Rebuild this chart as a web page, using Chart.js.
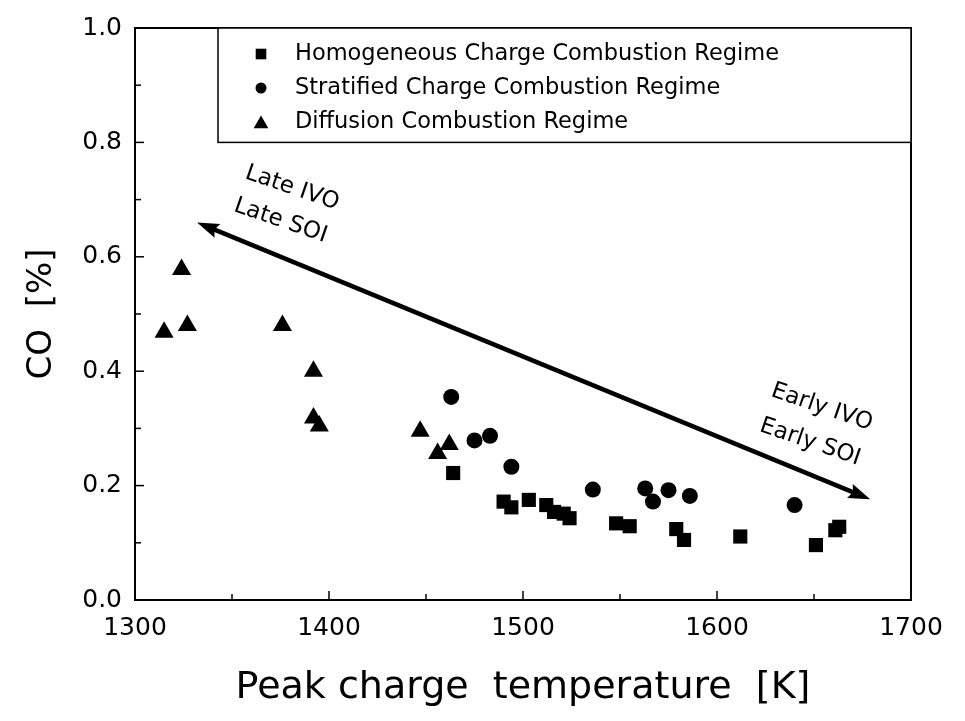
<!DOCTYPE html>
<html lang="en">
<head>
    <meta charset="UTF-8">
    <title>CO vs peak charge temperature</title>
    <script src="https://cdn.jsdelivr.net/npm/chart.js"></script>
    <style>
        html, body { margin: 0; padding: 0; background: #fff; }
        #wrap { width: 965px; height: 721px; }
    </style>
</head>
<body>
    <div id="wrap"><canvas id="coChart" width="965" height="721"></canvas></div>

    <script>
        // Datos
        const homoT  = [1464, 1490, 1494, 1503, 1512, 1516, 1521, 1524, 1548, 1555, 1579, 1583, 1612, 1651, 1661, 1663];
        const homoCO = [0.222, 0.172, 0.162, 0.175, 0.166, 0.154, 0.151, 0.143, 0.134, 0.129, 0.124, 0.105, 0.111, 0.096, 0.122, 0.128];

        const stratT  = [1463, 1475, 1483, 1494, 1536, 1563, 1567, 1575, 1586, 1640];
        const stratCO = [0.355, 0.279, 0.287, 0.233, 0.193, 0.195, 0.172, 0.192, 0.182, 0.166];

        const diffT  = [1315, 1324, 1327, 1376, 1392, 1392, 1395, 1447, 1456, 1462];
        const diffCO = [0.468, 0.578, 0.480, 0.480, 0.400, 0.318, 0.304, 0.295, 0.256, 0.272];

        const seriesLabels = ['Homogeneous Charge Combustion Regime', 'Stratified Charge Combustion Regime', 'Diffusion Combustion Regime'];

        const xTicks = [1300, 1400, 1500, 1600, 1700];
        const yTicks = [0.0, 0.2, 0.4, 0.6, 0.8, 1.0];

        // flecha (extremos) y anotaciones
        const arrowT  = [1332, 1679];
        const arrowCO = [0.660, 0.176];
        const noteText = ['Late IVO', 'Late SOI', 'Early IVO', 'Early SOI'];
        const noteT    = [1381, 1375, 1654, 1648];
        const noteCO   = [0.720, 0.663, 0.337, 0.276];

        const FONT = '"DejaVu Sans", Verdana, sans-serif';

        function toPoints(xs, ys) {
            return xs.map((x, i) => ({ x: x, y: ys[i] }));
        }

        const styles = ['rect', 'circle', 'triangle'];
        const radii = [10, 8, 11];
        const legendRadii = [7.5, 5.5, 8.5];

        // ticks hacia adentro, marco, flecha, notas y leyenda
        const decorPlugin = {
            id: 'decor',
            afterDatasetsDraw(chart) {
                const ctx = chart.ctx;
                const a = chart.chartArea;
                const xs = chart.scales.x;
                const ys = chart.scales.y;
                ctx.save();
                ctx.strokeStyle = '#000';
                ctx.fillStyle = '#000';

                // marco
                ctx.lineWidth = 2;
                ctx.strokeRect(a.left, a.top, a.right - a.left, a.bottom - a.top);

                // ticks
                ctx.lineWidth = 1.5;
                for (let v = 1300; v <= 1700; v += 50) {
                    const px = xs.getPixelForValue(v);
                    const len = (v % 100 === 0) ? 9 : 6;
                    ctx.beginPath();
                    ctx.moveTo(px, a.bottom);
                    ctx.lineTo(px, a.bottom - len);
                    ctx.stroke();
                }
                for (let k = 0; k <= 10; k++) {
                    const py = ys.getPixelForValue(k / 10);
                    const len = (k % 2 === 0) ? 9 : 6;
                    ctx.beginPath();
                    ctx.moveTo(a.left, py);
                    ctx.lineTo(a.left + len, py);
                    ctx.stroke();
                }

                // flecha
                const x1 = xs.getPixelForValue(arrowT[0]), y1 = ys.getPixelForValue(arrowCO[0]);
                const x2 = xs.getPixelForValue(arrowT[1]), y2 = ys.getPixelForValue(arrowCO[1]);
                const ang = Math.atan2(y2 - y1, x2 - x1);
                const headL = 22, headW = 7.5;
                ctx.lineWidth = 4.5;
                ctx.beginPath();
                ctx.moveTo(x1 + Math.cos(ang) * headL * 0.8, y1 + Math.sin(ang) * headL * 0.8);
                ctx.lineTo(x2 - Math.cos(ang) * headL * 0.8, y2 - Math.sin(ang) * headL * 0.8);
                ctx.stroke();
                function head(tx, ty, dir) {
                    ctx.save();
                    ctx.translate(tx, ty);
                    ctx.rotate(dir);
                    ctx.beginPath();
                    ctx.moveTo(0, 0);
                    ctx.lineTo(-headL, -headW);
                    ctx.lineTo(-headL * 0.85, 0);
                    ctx.lineTo(-headL, headW);
                    ctx.closePath();
                    ctx.fill();
                    ctx.restore();
                }
                head(x2, y2, ang);
                head(x1, y1, ang + Math.PI);

                // notas giradas
                ctx.font = '23px ' + FONT;
                ctx.textAlign = 'center';
                ctx.textBaseline = 'middle';
                noteText.forEach((t, i) => {
                    ctx.save();
                    ctx.translate(xs.getPixelForValue(noteT[i]), ys.getPixelForValue(noteCO[i]));
                    ctx.rotate(19 * Math.PI / 180);
                    ctx.fillText(t, 0, 0);
                    ctx.restore();
                });

                // leyenda
                const bx = 218, by = a.top, bw = a.right - bx, bh = ys.getPixelForValue(0.8) - a.top;
                ctx.fillStyle = '#fff';
                ctx.fillRect(bx, by, bw, bh);
                ctx.lineWidth = 1.5;
                ctx.strokeRect(bx, by, bw, bh);
                ctx.font = '22.5px ' + FONT;
                ctx.textAlign = 'left';
                const rowY = [54, 88, 122];
                seriesLabels.forEach((lbl, i) => {
                    ctx.fillStyle = '#000';
                    Chart.helpers.drawPoint(ctx, { pointStyle: styles[i], radius: legendRadii[i], rotation: 0, borderWidth: 0 }, 261, rowY[i] + (i === 2 ? 2 : 0));
                    ctx.fillStyle = '#000';
                    ctx.fillText(lbl, 295, rowY[i]);
                });
                ctx.restore();
            }
        };

        window.onload = function () {
            const ctx = document.getElementById('coChart').getContext('2d');
            const sets = [
                toPoints(homoT, homoCO),
                toPoints(stratT, stratCO),
                toPoints(diffT, diffCO)
            ];
            new Chart(ctx, {
                type: 'scatter',
                data: {
                    datasets: sets.map((pts, i) => ({
                        label: seriesLabels[i],
                        data: pts,
                        pointStyle: styles[i],
                        pointRadius: radii[i],
                        pointHoverRadius: radii[i],
                        backgroundColor: '#000',
                        borderColor: '#000',
                        borderWidth: 0
                    }))
                },
                options: {
                    responsive: false,
                    animation: false,
                    layout: { padding: { top: 28, right: 54, left: 0, bottom: 0 } },
                    plugins: {
                        legend: { display: false },
                        tooltip: { enabled: false }
                    },
                    scales: {
                        x: {
                            type: 'linear',
                            min: 1300,
                            max: 1700,
                            afterBuildTicks: s => { s.ticks = xTicks.map(v => ({ value: v })); },
                            afterFit: s => { s.height = 121; },
                            grid: { display: false, drawTicks: false },
                            border: { display: false },
                            ticks: {
                                color: '#000',
                                padding: 13,
                                font: { family: FONT, size: 25 },
                                callback: v => String(v)
                            },
                            title: {
                                display: true,
                                text: 'Peak charge  temperature  [K]',
                                color: '#000',
                                font: { family: FONT, size: 38, lineHeight: 1.2 },
                                padding: { top: 0, bottom: 10 }
                            }
                        },
                        y: {
                            type: 'linear',
                            min: 0,
                            max: 1,
                            afterBuildTicks: s => { s.ticks = yTicks.map(v => ({ value: v })); },
                            afterFit: s => { s.width = 135; },
                            grid: { display: false, drawTicks: false },
                            border: { display: false },
                            ticks: {
                                color: '#000',
                                padding: 13,
                                font: { family: FONT, size: 25 },
                                callback: v => Number(v).toFixed(1)
                            },
                            title: {
                                display: true,
                                text: 'CO  [%]',
                                color: '#000',
                                font: { family: FONT, size: 34, lineHeight: 1.2 },
                                padding: { top: 22, bottom: 0 }
                            }
                        }
                    }
                },
                plugins: [decorPlugin]
            });
        };
    </script>
</body>
</html>
